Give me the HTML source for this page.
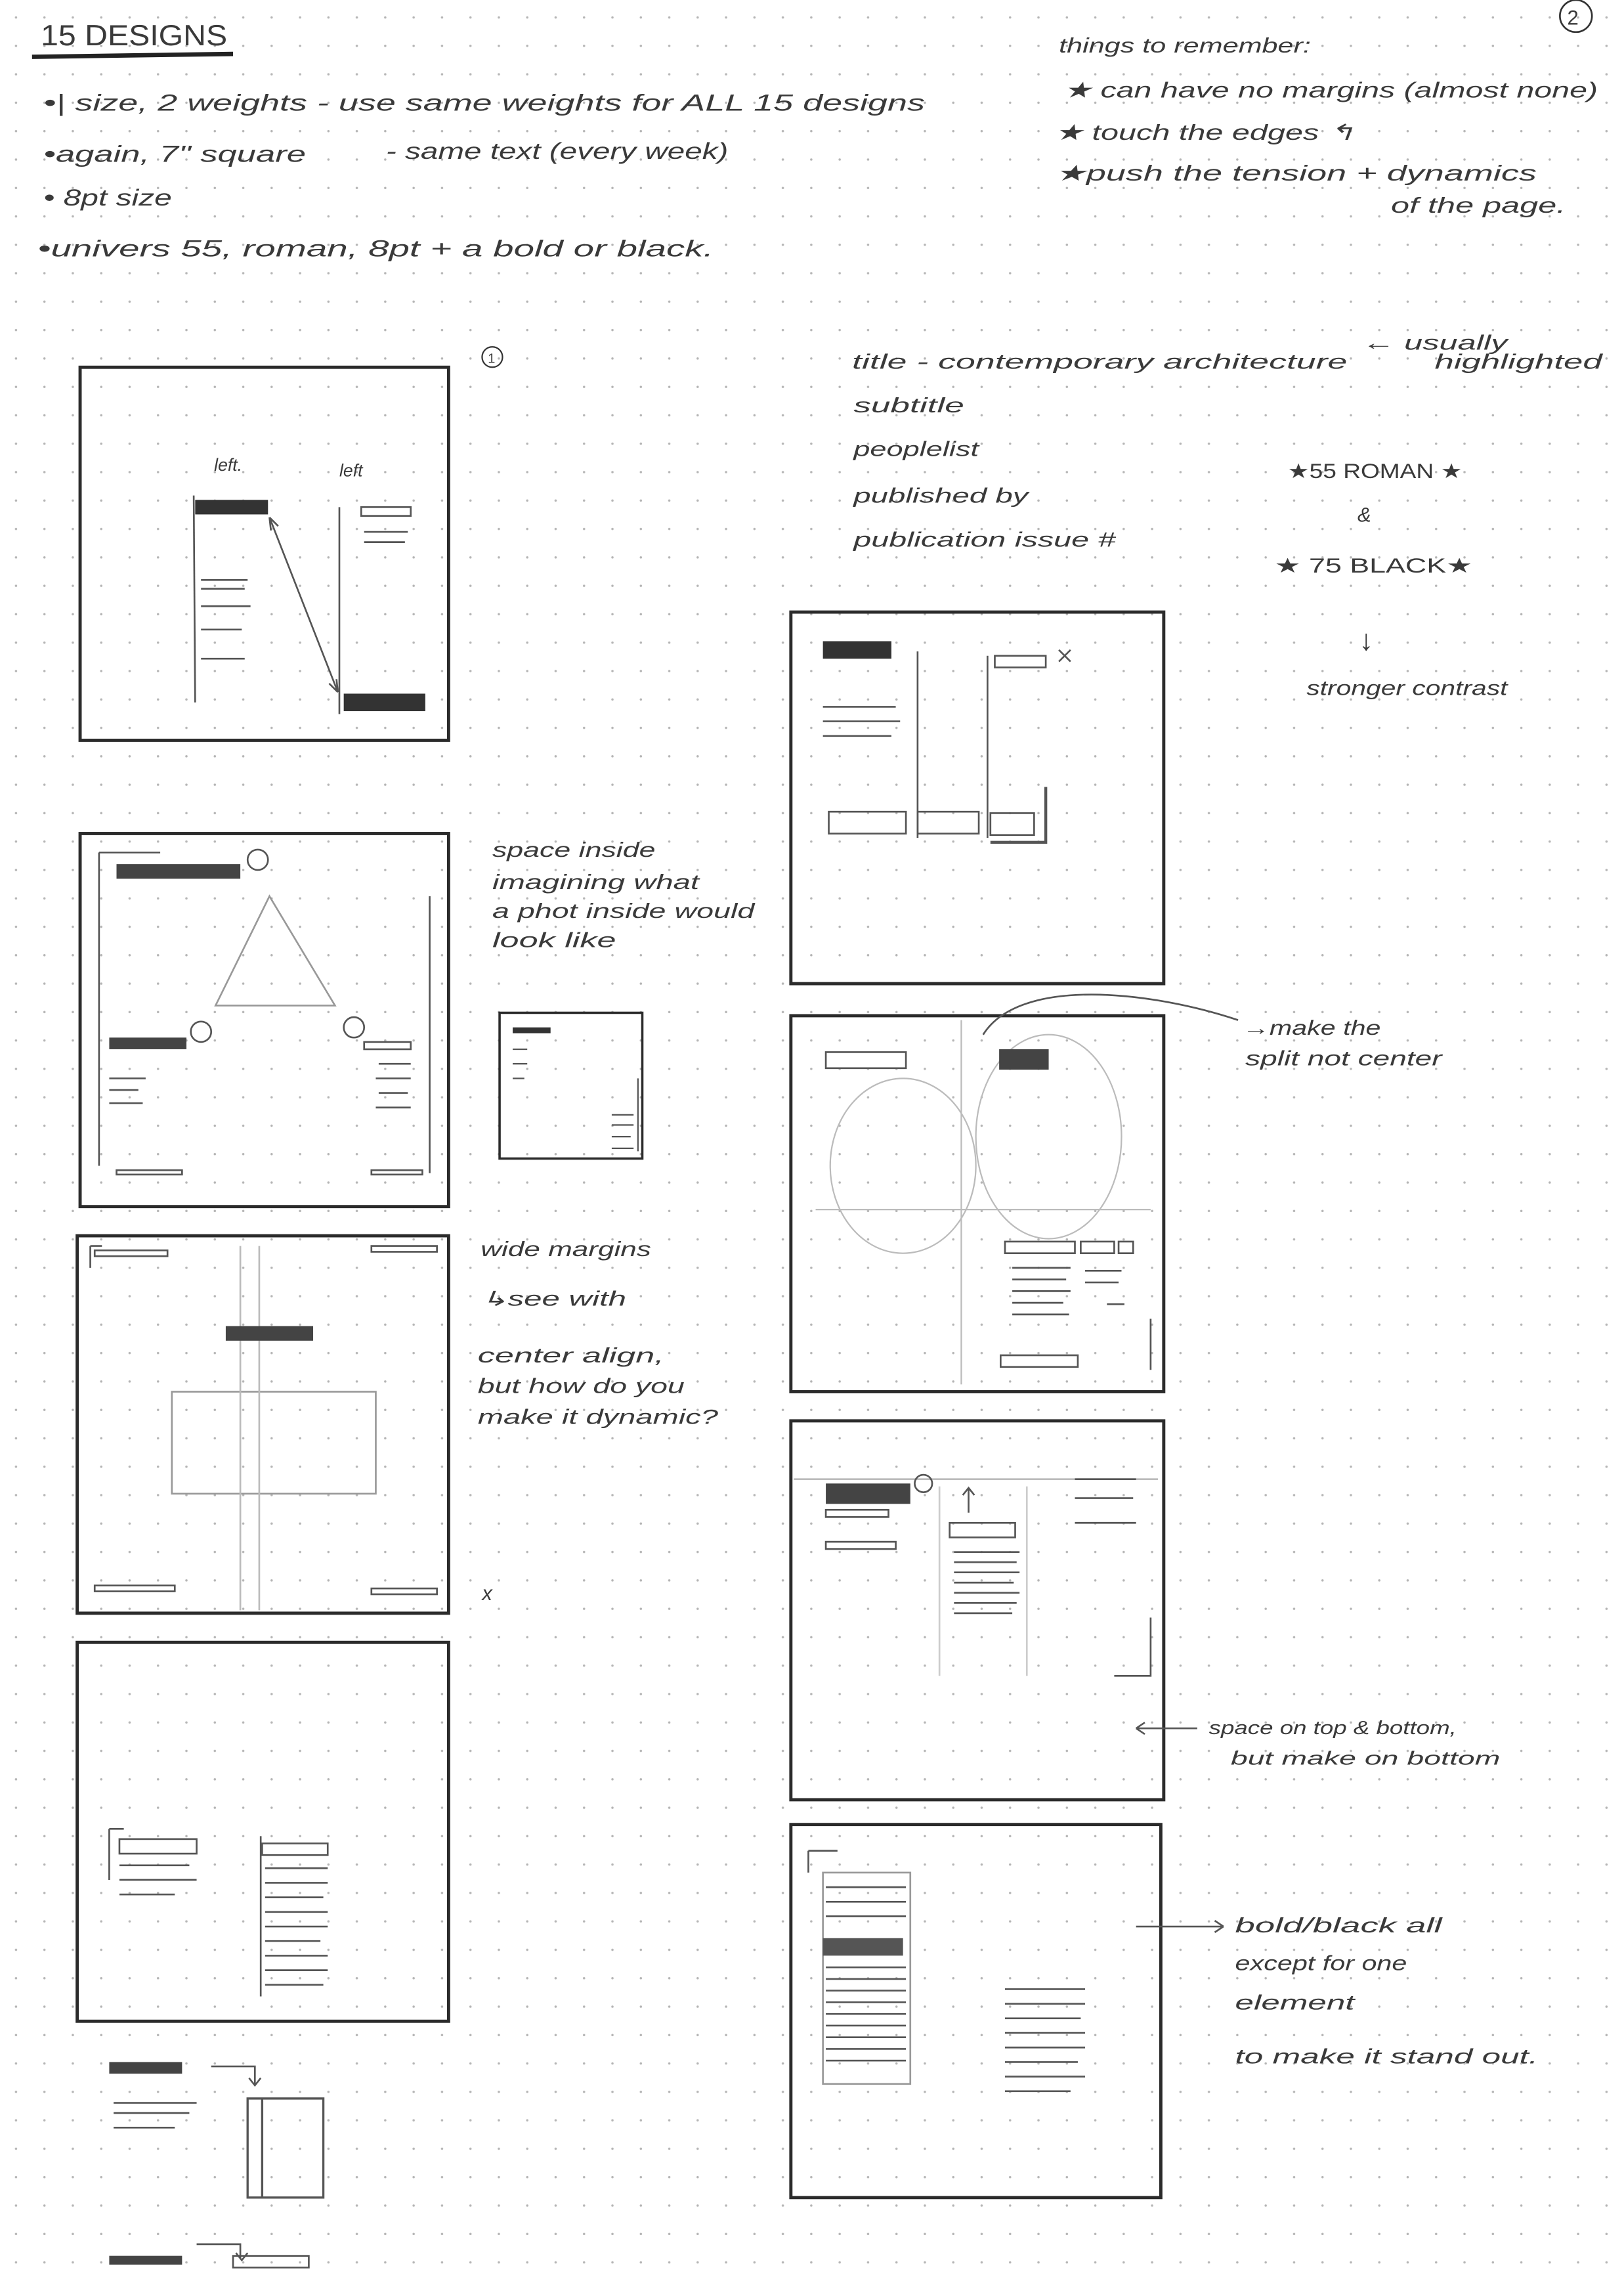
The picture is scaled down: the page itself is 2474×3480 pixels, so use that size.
<!DOCTYPE html>
<html><head><meta charset="utf-8"><style>
html,body{margin:0;padding:0;background:#fff;}
svg{display:block}
text{font-family:"Liberation Sans",sans-serif;font-style:italic;fill:#3a3a3a;}
</style></head><body>
<svg width="2474" height="3480" viewBox="0 0 1115 1568" preserveAspectRatio="none" xmlns="http://www.w3.org/2000/svg">
<defs>
<pattern id="dots" x="1" y="2" width="19.5" height="19.5" patternUnits="userSpaceOnUse">
<circle cx="10" cy="10" r="0.8" fill="#b5b5b5"/>
</pattern>
</defs>
<rect width="1115" height="1568" fill="#fff"/>
<rect width="1115" height="1568" fill="url(#dots)"/>

<!-- header text -->
<text x="28" y="31" font-size="20" style="font-style:normal" fill="#222" textLength="128" lengthAdjust="spacingAndGlyphs">15 DESIGNS</text>
<path d="M22 39 L160 37" stroke="#222" stroke-width="3"/>
<text x="30" y="76" font-size="16" textLength="605" lengthAdjust="spacingAndGlyphs">•| size, 2 weights - use same weights for ALL 15 designs</text>
<text x="30" y="111" font-size="16" textLength="180" lengthAdjust="spacingAndGlyphs">•again, 7" square</text>
<text x="265" y="109" font-size="16" textLength="235" lengthAdjust="spacingAndGlyphs">- same text (every week)</text>
<text x="30" y="141" font-size="16" textLength="88" lengthAdjust="spacingAndGlyphs">• 8pt size</text>
<text x="26" y="176" font-size="16" textLength="464" lengthAdjust="spacingAndGlyphs">•univers 55, roman, 8pt + a bold or black.</text>

<text x="727" y="36" font-size="14" textLength="173" lengthAdjust="spacingAndGlyphs">things to remember:</text>
<text x="730" y="67" font-size="15" textLength="367" lengthAdjust="spacingAndGlyphs">★ can have no margins (almost none)</text>
<text x="724" y="96" font-size="15" textLength="206" lengthAdjust="spacingAndGlyphs">★ touch the edges ↰</text>
<text x="724" y="124" font-size="15" textLength="331" lengthAdjust="spacingAndGlyphs">★push the tension + dynamics</text>
<text x="955" y="146" font-size="15" textLength="120" lengthAdjust="spacingAndGlyphs">of the page.</text>
<circle cx="1082" cy="11" r="11" fill="none" stroke="#333" stroke-width="1.2"/>
<text x="1076" y="17" font-size="14" style="font-style:normal">2</text>

<!-- right top list -->
<text x="585" y="253" font-size="14" fill="#555" textLength="340" lengthAdjust="spacingAndGlyphs">title - contemporary architecture</text>
<text x="935" y="240" font-size="14" fill="#555" textLength="100" lengthAdjust="spacingAndGlyphs">← usually</text>
<text x="985" y="253" font-size="14" fill="#555" textLength="115" lengthAdjust="spacingAndGlyphs">highlighted</text>
<text x="586" y="283" font-size="14" fill="#555" textLength="76" lengthAdjust="spacingAndGlyphs">subtitle</text>
<text x="586" y="313" font-size="14" fill="#555" textLength="86" lengthAdjust="spacingAndGlyphs">peoplelist</text>
<text x="586" y="345" font-size="14" fill="#555" textLength="120" lengthAdjust="spacingAndGlyphs">published by</text>
<text x="586" y="375" font-size="14" fill="#555" textLength="180" lengthAdjust="spacingAndGlyphs">publication issue #</text>
<text x="884" y="328" font-size="14" style="font-style:normal" textLength="120" lengthAdjust="spacingAndGlyphs">★55 ROMAN ★</text>
<text x="932" y="358" font-size="14">&amp;</text>
<text x="875" y="393" font-size="14" style="font-style:normal" textLength="136" lengthAdjust="spacingAndGlyphs">★ 75 BLACK★</text>
<text x="933" y="446" font-size="20" style="font-style:normal">↓</text>
<text x="897" y="477" font-size="14" textLength="138" lengthAdjust="spacingAndGlyphs">stronger contrast</text>

<circle cx="338" cy="245" r="7" fill="none" stroke="#333"/><text x="335" y="249" font-size="9" style="font-style:normal">1</text>

<g fill="none" stroke="#2b2b2b" stroke-width="2.2">
<rect x="55" y="252" width="253" height="256"/>
<rect x="543" y="420" width="256" height="255"/>
<rect x="55" y="572" width="253" height="256"/>
<rect x="343" y="695" width="98" height="100" stroke-width="1.6"/>
<rect x="543" y="697" width="256" height="258"/>
<rect x="53" y="848" width="255" height="259"/>
<rect x="543" y="975" width="256" height="260"/>
<rect x="53" y="1127" width="255" height="260"/>
<rect x="543" y="1252" width="254" height="256"/>
</g>

<!-- Box A contents -->
<text x="147" y="323" font-size="12" fill="#777">left.</text>
<text x="233" y="327" font-size="12" fill="#777">left</text>
<g stroke="#555" stroke-width="1.2" fill="none">
<path d="M133 340 L134 482"/>
<path d="M138 398 H170 M138 416 H172 M138 432 H166 M138 452 H168 M138 404 H168"/>
<path d="M233 348 L233 490"/>
<rect x="248" y="348" width="34" height="6"/>
<path d="M250 365 H280 M250 372 H278"/>
<path d="M185 355 L232 475 M185 355 l1 9 M185 355 l6 6 M232 475 l-1 -9 M232 475 l-6 -6"/>
</g>
<rect x="134" y="343" width="50" height="10" fill="#333"/>
<rect x="236" y="476" width="56" height="12" fill="#333"/>

<!-- Box B contents -->
<rect x="565" y="440" width="47" height="12" fill="#333"/>
<g stroke="#555" stroke-width="1.2" fill="none">
<path d="M630 447 V575 M565 485 H615 M565 495 H618 M565 505 H612 M678 450 V575"/>
<rect x="683" y="450" width="35" height="8"/>
<path d="M727 446 l8 8 M735 446 l-8 8"/>
<rect x="569" y="557" width="53" height="15"/>
<rect x="630" y="557" width="42" height="15"/>
<rect x="680" y="558" width="30" height="15"/>
<path d="M718 540 V578 H680" stroke-width="2"/>
</g>

<!-- Box C contents -->
<rect x="80" y="593" width="85" height="10" fill="#444"/>
<g stroke="#555" stroke-width="1.2" fill="none">
<path d="M68 585 V800 M68 585 H110 M295 615 V805"/>
<circle cx="177" cy="590" r="7"/><circle cx="138" cy="708" r="7"/><circle cx="243" cy="705" r="7"/>
<path d="M148 690 L185 615 L230 690 Z" stroke="#999"/>
<path d="M75 740 H100 M75 748 H95 M75 757 H98 M260 730 H282 M258 740 H282 M260 750 H280 M258 760 H282"/>
<rect x="250" y="715" width="32" height="5"/>
<rect x="80" y="803" width="45" height="3"/>
<rect x="255" y="803" width="35" height="3"/>
</g>
<rect x="75" y="712" width="53" height="8" fill="#444"/>
<text x="338" y="588" font-size="14" textLength="112" lengthAdjust="spacingAndGlyphs">space inside</text>
<text x="338" y="610" font-size="14" textLength="142" lengthAdjust="spacingAndGlyphs">imagining what</text>
<text x="338" y="630" font-size="14" textLength="180" lengthAdjust="spacingAndGlyphs">a phot inside would</text>
<text x="338" y="650" font-size="14" textLength="85" lengthAdjust="spacingAndGlyphs">look like</text>

<!-- small box -->
<rect x="352" y="705" width="26" height="4" fill="#333"/>
<g stroke="#555" stroke-width="1" fill="none">
<path d="M352 720 H362 M352 730 H362 M352 740 H360 M420 765 H435 M420 772 H435 M420 780 H433 M420 788 H435 M438 740 V790"/>
</g>

<!-- Box D contents -->
<g stroke="#bbb" stroke-width="1" fill="none">
<ellipse cx="720" cy="780" rx="50" ry="70"/>
<ellipse cx="620" cy="800" rx="50" ry="60"/>
<path d="M660 700 V950 M560 830 H790"/>
</g>
<rect x="686" y="720" width="34" height="14" fill="#444"/>
<g stroke="#555" stroke-width="1.2" fill="none">
<rect x="567" y="722" width="55" height="11"/>
<rect x="690" y="852" width="48" height="8"/>
<rect x="742" y="852" width="23" height="8"/>
<rect x="768" y="852" width="10" height="8"/>
<path d="M695 870 H735 M695 878 H732 M695 886 H735 M695 894 H730 M695 902 H734 M745 872 H770 M745 880 H768 M760 895 H772"/>
<rect x="687" y="930" width="53" height="8"/>
<path d="M790 905 V940"/>
<path d="M675 710 C700 670 790 680 850 700"/>
</g>
<text x="853" y="710" font-size="14" textLength="95" lengthAdjust="spacingAndGlyphs">→make the</text>
<text x="855" y="731" font-size="14" textLength="135" lengthAdjust="spacingAndGlyphs">split not center</text>

<!-- Box E contents -->
<g stroke="#555" stroke-width="1.2" fill="none">
<path d="M62 855 V870 M62 855 H70"/>
<rect x="65" y="858" width="50" height="4"/>
<rect x="255" y="855" width="45" height="4"/>
<rect x="118" y="955" width="140" height="70" stroke="#999"/>
<path d="M165 855 V1105 M178 855 V1105" stroke="#bbb"/>
<rect x="65" y="1088" width="55" height="4"/>
<rect x="255" y="1090" width="45" height="4"/>
</g>
<rect x="155" y="910" width="60" height="10" fill="#444"/>
<text x="330" y="862" font-size="14" textLength="117" lengthAdjust="spacingAndGlyphs">wide margins</text>
<text x="330" y="896" font-size="14" textLength="100" lengthAdjust="spacingAndGlyphs">↳see with</text>
<text x="328" y="935" font-size="14" textLength="128" lengthAdjust="spacingAndGlyphs">center align,</text>
<text x="328" y="956" font-size="14" textLength="142" lengthAdjust="spacingAndGlyphs">but how do you</text>
<text x="328" y="977" font-size="14" textLength="165" lengthAdjust="spacingAndGlyphs">make it dynamic?</text>
<text x="331" y="1098" font-size="14">x</text>

<!-- Box F contents -->
<rect x="567" y="1018" width="58" height="14" fill="#444"/>
<g stroke="#555" stroke-width="1.2" fill="none">
<path d="M545 1015 H795" stroke="#bbb"/>
<circle cx="634" cy="1018" r="6"/>
<rect x="567" y="1036" width="43" height="5"/>
<rect x="567" y="1058" width="48" height="5"/>
<path d="M665 1038 V1022 M661 1026 L665 1021 L669 1026"/>
<rect x="652" y="1045" width="45" height="10"/>
<path d="M655 1065 H700 M655 1072 H698 M655 1079 H700 M655 1086 H696 M655 1093 H700 M655 1100 H698 M655 1107 H695"/>
<path d="M738 1015 H780 M738 1028 H778 M738 1045 H780 M790 1110 V1150 H765"/>
<path d="M645 1020 V1150 M705 1020 V1150" stroke="#ccc"/>
<path d="M780 1186 H822 M780 1186 l6 -4 M780 1186 l6 4"/>
</g>
<text x="830" y="1190" font-size="13" textLength="170" lengthAdjust="spacingAndGlyphs">space on top &amp; bottom,</text>
<text x="845" y="1211" font-size="13" textLength="185" lengthAdjust="spacingAndGlyphs">but make on bottom</text>

<!-- Box G contents -->
<g stroke="#555" stroke-width="1.2" fill="none">
<path d="M75 1255 V1290 M75 1255 H85"/>
<rect x="82" y="1262" width="53" height="10"/>
<path d="M82 1280 H130 M82 1290 H135 M82 1300 H120 M179 1260 V1370"/>
<rect x="180" y="1265" width="45" height="8"/>
<path d="M182 1282 H225 M182 1292 H225 M182 1302 H222 M182 1312 H225 M182 1322 H225 M182 1332 H220 M182 1342 H225 M182 1352 H225 M182 1362 H222"/>
</g>
<rect x="75" y="1415" width="50" height="8" fill="#444"/>
<g stroke="#555" stroke-width="1.2" fill="none">
<path d="M78 1443 H135 M78 1450 H130 M78 1460 H120"/>
<path d="M145 1418 H175 V1430 M171 1426 L175 1431 L179 1426"/>
<path d="M170 1440 H222 V1508 H170 Z M180 1440 V1508" stroke-width="1.5"/>
<path d="M135 1540 H165 V1550 M162 1546 L166 1551 L170 1546"/>
<rect x="160" y="1548" width="52" height="8"/>
</g>
<rect x="75" y="1548" width="50" height="6" fill="#444"/>

<!-- Box H contents -->
<g stroke="#555" stroke-width="1.2" fill="none">
<path d="M555 1270 H575 M555 1270 V1285"/>
<rect x="565" y="1285" width="60" height="145" stroke="#999"/>
<path d="M567 1295 H622 M567 1305 H622 M567 1315 H622 M567 1350 H622 M567 1358 H622 M567 1366 H622 M567 1374 H622 M567 1382 H622 M567 1390 H622 M567 1398 H622 M567 1406 H622 M567 1414 H622"/>
<path d="M690 1365 H745 M690 1375 H745 M690 1385 H742 M690 1395 H745 M690 1405 H745 M690 1415 H740 M690 1425 H745 M690 1435 H735"/>
<path d="M780 1322 H840 M840 1322 l-6 -4 M840 1322 l-6 4"/>
</g>
<rect x="565" y="1330" width="55" height="12" fill="#555"/>
<text x="848" y="1326" font-size="14" textLength="142" lengthAdjust="spacingAndGlyphs">bold/black all</text>
<text x="848" y="1352" font-size="14" textLength="118" lengthAdjust="spacingAndGlyphs">except for one</text>
<text x="848" y="1379" font-size="14" textLength="82" lengthAdjust="spacingAndGlyphs">element</text>
<text x="848" y="1416" font-size="14" textLength="208" lengthAdjust="spacingAndGlyphs">to make it stand out.</text>
</svg>
</body></html>
